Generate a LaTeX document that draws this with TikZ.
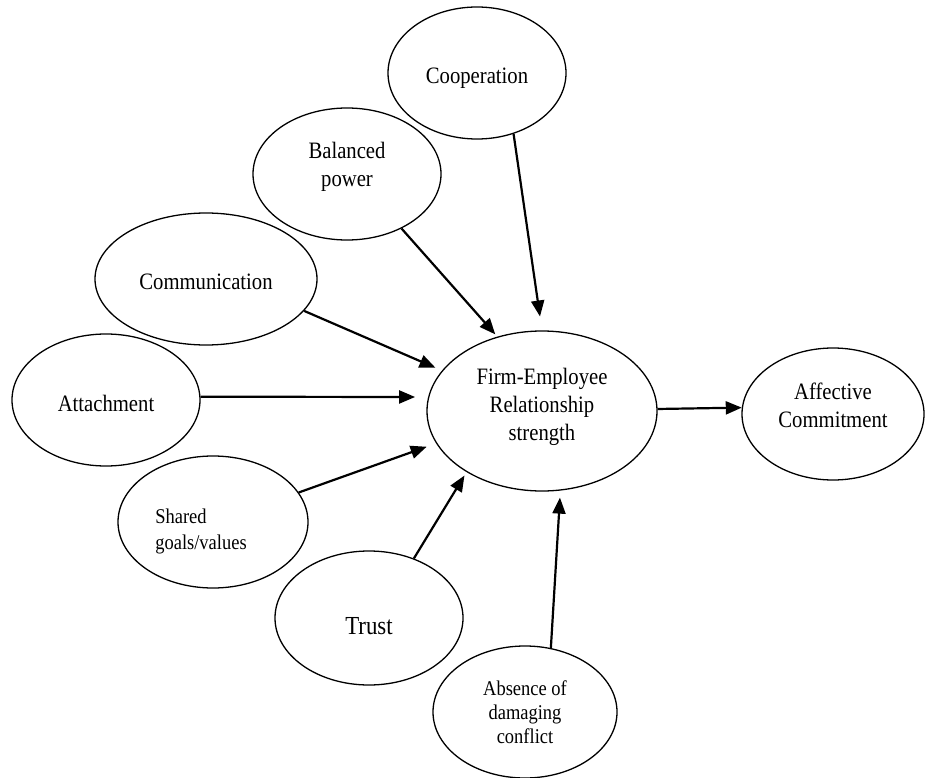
\documentclass[tikz,border=0pt]{standalone}
\usepackage{fontspec}
\setmainfont{Liberation Serif}[FakeStretch=0.88]
\usetikzlibrary{shapes.geometric,arrows.meta}
\begin{document}
\begin{tikzpicture}[x=1pt,y=-1pt,
  ell/.style={draw, ellipse, line width=1.3pt, inner sep=0pt, align=center,
    font=\fontsize{23.5}{28}\selectfont},
  small/.style={font=\fontsize{21}{26}\selectfont},
  txt/.style={inner sep=0pt, align=center},
  arr/.style={line width=2.2pt, -{Triangle[length=16pt,width=13pt]}}]
\useasboundingbox (0,0) rectangle (928,778);
% ellipses
\node[ell, minimum width=178pt, minimum height=132pt] (coop) at (477,73) {};
\node[txt, font=\fontsize{23.5}{28}\selectfont] (cooptxt) at (477,78) {Cooperation};
\node[ell, minimum width=188pt, minimum height=132pt] (bal) at (347,174) {};
\node[txt, font=\fontsize{23.5}{28}\selectfont] (baltxt) at (347,167) {Balanced\\power};
\node[ell, minimum width=222pt, minimum height=132pt] (comm) at (206,279) {};
\node[txt, font=\fontsize{23.5}{28}\selectfont] (commtxt) at (206,282) {Communication};
\node[ell, minimum width=188pt, minimum height=132pt] (attach) at (106,400) {};
\node[txt, font=\fontsize{23.5}{28}\selectfont] (attachtxt) at (106,403) {Attachment};
\node[ell, minimum width=190pt, minimum height=132pt] (shared) at (213,522) {};
\node[txt, small, align=left] (sharedtxt) at (201,531) {Shared\\goals/values};
\node[ell, minimum width=188pt, minimum height=134pt] (trust) at (369,618) {};
\node[txt, font=\fontsize{26}{28}\selectfont] (trusttxt) at (369,626) {Trust};
\node[ell, minimum width=184pt, minimum height=132pt, font=\fontsize{21}{24}\selectfont] (abs) at (525,712) {Absence of\\damaging\\conflict};
\node[ell, minimum width=230pt, minimum height=160pt] (firm) at (542,411) {};
\node[txt, font=\fontsize{23.5}{28}\selectfont] (firmtxt) at (542,407) {Firm-Employee\\Relationship\\strength};
\node[ell, minimum width=182pt, minimum height=132pt] (aff) at (833,414) {};
\node[txt, font=\fontsize{23.5}{28}\selectfont] (afftxt) at (833,405) {Affective\\Commitment};
% arrows
\draw[arr, shorten >=14pt] (coop.-59) -- (firm.90);
\draw[arr, shorten >=3pt] (bal.-45) -- (firm.121.7);
\draw[arr, shorten >=7pt] (comm.-18.8) -- (firm.158.6);
\draw[arr, shorten >=13pt] (attach.2) -- (firm.173.7);
\draw[arr, shorten >=10pt] (shared.19.6) -- (firm.197.4);
\draw[arr, shorten >=4pt] (trust.53) -- (firm.219.7);
\draw[arr, shorten >=7pt] (abs.68.8) -- (firm.283.1);
\draw[arr] (firm.1) -- (aff.176.8);
\end{tikzpicture}
\end{document}
